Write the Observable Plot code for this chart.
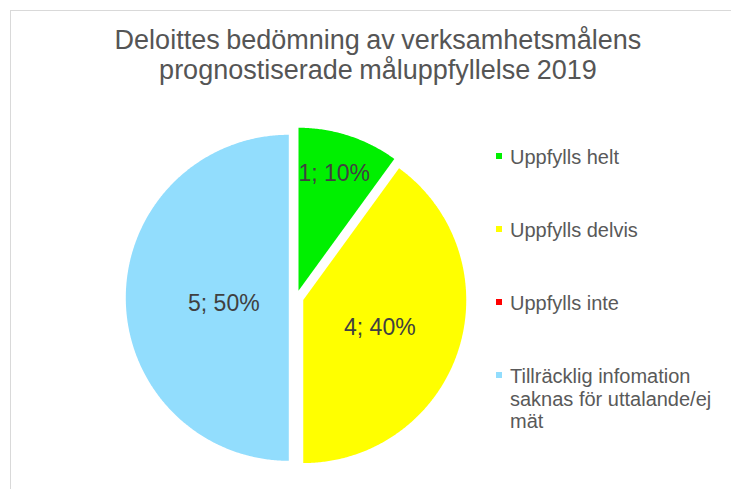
<!DOCTYPE html>
<html>
<head>
<meta charset="utf-8">
<script src="https://cdn.jsdelivr.net/npm/d3@7"></script>
<script src="https://cdn.jsdelivr.net/npm/@observablehq/plot@0.6"></script>
<style>
  html, body { margin: 0; padding: 0; background: #fff; }
  #wrap { position: relative; width: 731px; height: 489px; overflow: hidden; background: #fff;
          font-family: "Liberation Sans", Arial, sans-serif; }
  #frame { position: absolute; left: 10px; top: 10px; width: 760px; height: 520px;
           border-top: 1px solid #d9d9d9; border-left: 1px solid #d9d9d9; pointer-events: none; }
  #title { position: relative; height: 71px; padding-top: 25px; width: 756px; text-align: center;
           font-size: 27px; line-height: 30px; color: #555555; white-space: nowrap; word-spacing: -1px; }
  #chart svg { display: block; }
  #legend { position: absolute; left: 494px; top: 0; }
  .item { position: absolute; left: 0; width: 230px; font-size: 20px; line-height: 22.5px; color: #595959; }
  .sw { position: absolute; left: 2px; top: 7px; width: 6px; height: 6px; }
  .lab { position: absolute; left: 16px; width: 215px; }
</style>
</head>
<body>
<div id="wrap">
  <div id="title"></div>
  <div id="chart"></div>
  <div id="legend"></div>
  <div id="frame"></div>
</div>
<script>
// ---- data ----
const titleLines = ["Deloittes bedömning av verksamhetsmålens", "prognostiserade måluppfyllelse 2019"];
const categories = ["Uppfylls helt", "Uppfylls delvis", "Uppfylls inte", "Tillräcklig infomation saknas för uttalande/ej mät"];
const counts = [1, 4, 0, 5];
const colors = ["#00f000", "#ffff00", "#ff0000", "#92ddfd"];

// ---- layout constants ----
const R = 163, cx = 295.7, cy = 297.3 - 96;
const explode = 7.4 / R;
const labelFrac = [0.75, 0.5, 0.5, 0.4];
const labelShiftDeg = [-1, 2, 0, -5];

document.getElementById("title").innerHTML = titleLines.join("<br>");

const total = d3.sum(counts);
const arcs = d3.pie().sort(null).value(d => d)(counts);
const pts = [];
const labels = [];
arcs.forEach((a, i) => {
  if (a.value <= 0) return;
  const cat = categories[i];
  const mid = (a.startAngle + a.endAngle) / 2;
  const ox = explode * Math.sin(mid), oy = explode * Math.cos(mid);
  pts.push({cat, x: ox, y: oy});
  const n = Math.max(2, Math.ceil((a.endAngle - a.startAngle) / (Math.PI / 360)));
  for (let k = 0; k <= n; k++) {
    const t = a.startAngle + (a.endAngle - a.startAngle) * k / n;
    pts.push({cat, x: ox + Math.sin(t), y: oy + Math.cos(t)});
  }
  pts.push({cat, x: ox, y: oy});
  const f = labelFrac[i];
  const la = mid + labelShiftDeg[i] * Math.PI / 180;
  labels.push({x: ox + f * Math.sin(la), y: oy + f * Math.cos(la),
               text: `${a.value}; ${Math.round(a.value / total * 100)}%`});
});

const chart = Plot.plot({
  width: 731,
  height: 393,
  margin: 0,
  style: {background: "transparent", fontFamily: "'Liberation Sans', Arial, sans-serif"},
  x: {axis: null, domain: [-1, 1], range: [cx - R, cx + R]},
  y: {axis: null, domain: [-1, 1], range: [cy + R, cy - R]},
  color: {domain: categories, range: colors},
  marks: [
    Plot.line(pts, {x: "x", y: "y", z: "cat", fill: "cat", stroke: "none", curve: "linear"}),
    Plot.text(labels, {x: "x", y: "y", text: "text", fontSize: 23, fill: "#404040"})
  ]
});
document.getElementById("chart").appendChild(chart);

// legend
const legend = document.getElementById("legend");
categories.forEach((c, i) => {
  const item = document.createElement("div");
  item.className = "item";
  item.style.top = (146 + i * 73) + "px";
  const sw = document.createElement("div");
  sw.className = "sw";
  sw.style.background = colors[i];
  const lab = document.createElement("div");
  lab.className = "lab";
  lab.textContent = c;
  item.appendChild(sw);
  item.appendChild(lab);
  legend.appendChild(item);
});
</script>
</body>
</html>
